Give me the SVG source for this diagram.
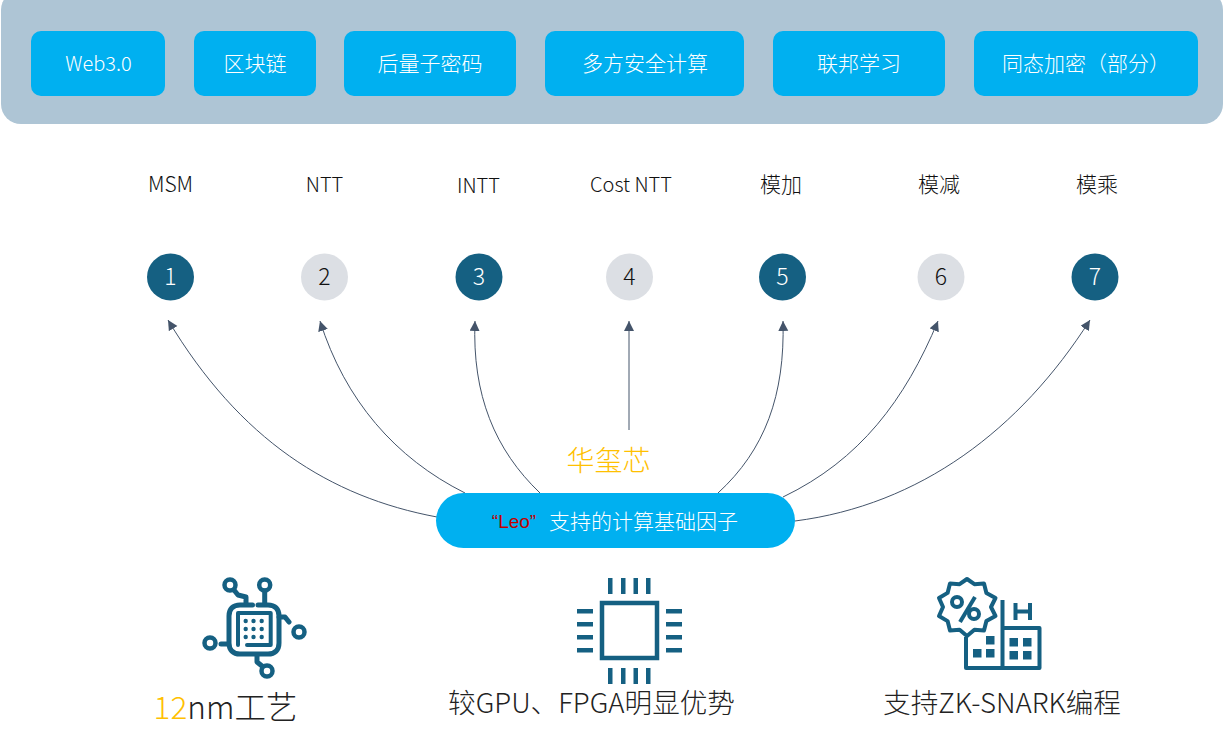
<svg xmlns="http://www.w3.org/2000/svg" width="1224" height="750" viewBox="0 0 1224 750">
<defs>
<style>
text{font-family:"Noto Sans CJK SC","Liberation Sans",sans-serif;font-weight:300;text-anchor:middle}
.btn{fill:#00b0f0}
.bt{fill:#fff;font-size:21px}
.lb{fill:#111;font-size:21px}
.la{font-size:20px}
.dk{fill:#156082}
.lt{fill:#dcdfe4}
.n{font-size:23px}
.cap{fill:#222;font-size:27.600px}
.c{fill:none;stroke:#44546a;stroke-width:1;marker-end:url(#a)}
.i{fill:none;stroke:#156082;stroke-width:5;stroke-linecap:round;stroke-linejoin:round}
.in{fill:none;stroke:#156082;stroke-width:4;stroke-linecap:round;stroke-linejoin:round}
.b{fill:none;stroke:#156082;stroke-width:4;stroke-linejoin:round}
.f{fill:#156082}
.p{stroke:#156082;stroke-width:4.500;fill:none}
</style>
<marker id="a" markerUnits="userSpaceOnUse" markerWidth="12" markerHeight="12" refX="10" refY="5" orient="auto"><path d="M0 0L10 5L0 10Z" fill="#44546a"/></marker>
</defs>
<rect x="0" y="0" width="1224" height="750" fill="#fff"/>
<g id="panel"><rect x="1" y="-10" width="1222" height="134" rx="20" fill="#aec5d5"/></g>
<g id="tech-web3"><rect class="btn" x="31" y="31" width="134" height="65" rx="10"/><text class="bt" x="98.500" y="71" style="font-size:20px">Web3.0</text></g>
<g id="tech-blockchain"><rect class="btn" x="194" y="31" width="122" height="65" rx="10"/><text class="bt" x="255" y="71">区块链</text></g>
<g id="tech-pqc"><rect class="btn" x="344" y="31" width="172" height="65" rx="10"/><text class="bt" x="430" y="71">后量子密码</text></g>
<g id="tech-mpc"><rect class="btn" x="545" y="31" width="199" height="65" rx="10"/><text class="bt" x="645" y="71">多方安全计算</text></g>
<g id="tech-fl"><rect class="btn" x="773" y="31" width="172" height="65" rx="10"/><text class="bt" x="859" y="71">联邦学习</text></g>
<g id="tech-he"><rect class="btn" x="974" y="31" width="224" height="65" rx="10"/><text class="bt" x="1086" y="71">同态加密（部分）</text></g>

<g id="n1"><text class="lb" x="170.500" y="192">MSM</text><circle class="dk" cx="170.500" cy="277" r="23.500"/><text class="n" x="170.500" y="285" fill="#fff">1</text></g>
<g id="n2"><text class="lb la" x="324.500" y="192">NTT</text><circle class="lt" cx="324.500" cy="277" r="23.500"/><text class="n" x="324.500" y="285" fill="#111">2</text></g>
<g id="n3"><text class="lb la" x="478.500" y="193">INTT</text><circle class="dk" cx="479" cy="277" r="23.500"/><text class="n" x="479" y="285" fill="#fff">3</text></g>
<g id="n4"><text class="lb la" x="631" y="192">Cost NTT</text><circle class="lt" cx="629.500" cy="277" r="23.500"/><text class="n" x="629.500" y="285" fill="#111">4</text></g>
<g id="n5"><text class="lb" x="781" y="192">模加</text><circle class="dk" cx="782.500" cy="277" r="23.500"/><text class="n" x="782.500" y="285" fill="#fff">5</text></g>
<g id="n6"><text class="lb" x="939" y="192">模减</text><circle class="lt" cx="941" cy="277" r="23.500"/><text class="n" x="941" y="285" fill="#111">6</text></g>
<g id="n7"><text class="lb" x="1097" y="192">模乘</text><circle class="dk" cx="1095" cy="277" r="23.500"/><text class="n" x="1095" y="285" fill="#fff">7</text></g>

<g id="connectors">
<path class="c" d="M437 517C330 497 240 440 168 320"/>
<path class="c" d="M465 493C395 458 345 400 320 321"/>
<path class="c" d="M540 493C495 450 472 395 475 321"/>
<path class="c" d="M629 430V321"/>
<path class="c" d="M718 493C765 450 785 395 783 321"/>
<path class="c" d="M783 497C860 460 905 400 938 321"/>
<path class="c" d="M795 521C920 505 1020 430 1090 320"/>
</g>

<g id="hub"><rect class="btn" x="436" y="493" width="359" height="55" rx="27.500"/>
<text x="514" y="528" font-size="19" style="fill:#c00000;font-family:'Liberation Sans',sans-serif">“Leo”</text>
<text x="643.500" y="529" font-size="21" style="fill:#fff">支持的计算基础因子</text></g>
<text x="608.500" y="471" font-size="28" style="fill:#ffc000">华玺芯</text>

<g id="icon-chip">
<path class="i" d="M252.500 605H240C233 605 229 609 229 616V643C229 650 233 654 240 654H268C275 654 279 650 279 643V616C279 609 275 605 268 605H258"/>
<path class="i" d="M246 603V597L238 595L234 590M264.700 603V591M279 617H285L289 622M221 644H228M257 656V662L262 666"/>
<path class="in" d="M238 645V613H270.700V645H247"/>
<circle class="p" cx="230" cy="585" r="5.500"/><circle class="p" cx="264.700" cy="585" r="5.500"/>
<circle class="p" cx="299" cy="632" r="5.500"/><circle class="p" cx="210" cy="643" r="5.500"/><circle class="p" cx="267" cy="671" r="5.500"/>
<g class="f"><circle cx="245.700" cy="621" r="2.200"/><circle cx="253.500" cy="621" r="2.200"/><circle cx="261.700" cy="621" r="2.200"/><circle cx="245.700" cy="629" r="2.200"/><circle cx="253.500" cy="629" r="2.200"/><circle cx="261.700" cy="629" r="2.200"/><circle cx="245.700" cy="637" r="2.200"/><circle cx="253.500" cy="637" r="2.200"/><circle cx="261.700" cy="637" r="2.200"/></g>
</g>

<g id="icon-cpu">
<rect x="602" y="603" width="55" height="55" fill="none" stroke="#156082" stroke-width="4.500"/>
<g class="f">
<rect x="608" y="578" width="4.500" height="16"/><rect x="621" y="578" width="4.500" height="16"/><rect x="633.500" y="578" width="4.500" height="16"/><rect x="646" y="578" width="4.500" height="16"/>
<rect x="608" y="668" width="4.500" height="16"/><rect x="621" y="668" width="4.500" height="16"/><rect x="633.500" y="668" width="4.500" height="16"/><rect x="646" y="668" width="4.500" height="16"/>
<rect x="577" y="609" width="16" height="4.500"/><rect x="577" y="622" width="16" height="4.500"/><rect x="577" y="635" width="16" height="4.500"/><rect x="577" y="648" width="16" height="4.500"/>
<rect x="666" y="609" width="16" height="4.500"/><rect x="666" y="622" width="16" height="4.500"/><rect x="666" y="635" width="16" height="4.500"/><rect x="666" y="648" width="16" height="4.500"/>
</g>
</g>

<g id="icon-factory">
<path class="b" d="M1002.500 600V668H966V637M1002.500 628H1039.500V668H1002.500"/>
<path class="b" d="M967 579L974.400 584.200L984 583.500L986.400 592.900L995.500 598L991 607L995.500 616L986.400 621.100L984 630.500L974.400 629.800L967 636L959.600 629.800L950 630.500L947.600 621.100L939 616L943 607L939 598L947.600 592.900L950 583.500L959.600 584.200Z"/>
<path class="b" d="M975 597L960 622"/>
<circle class="b" cx="957" cy="602" r="5"/><circle class="b" cx="974" cy="614" r="5"/>
<path class="b" d="M1015.500 603V620M1030 603V620M1015.500 611.500H1030"/>
<g class="f">
<rect x="986" y="636" width="8.500" height="8.500"/><rect x="973" y="649" width="8.500" height="8.500"/><rect x="986" y="649" width="8.500" height="8.500"/>
<rect x="1009.500" y="638" width="8.500" height="8.500"/><rect x="1023" y="638" width="8.500" height="8.500"/><rect x="1009.500" y="651" width="8.500" height="8.500"/><rect x="1023" y="651" width="8.500" height="8.500"/>
</g>
</g>

<text class="cap" x="225.500" y="719" style="font-size:31.500px"><tspan style="fill:#ffc000">12</tspan>nm工艺</text>
<text class="cap" x="591.500" y="713">较GPU、FPGA明显优势</text>
<text class="cap" x="1002" y="713">支持ZK-SNARK编程</text>
</svg>
